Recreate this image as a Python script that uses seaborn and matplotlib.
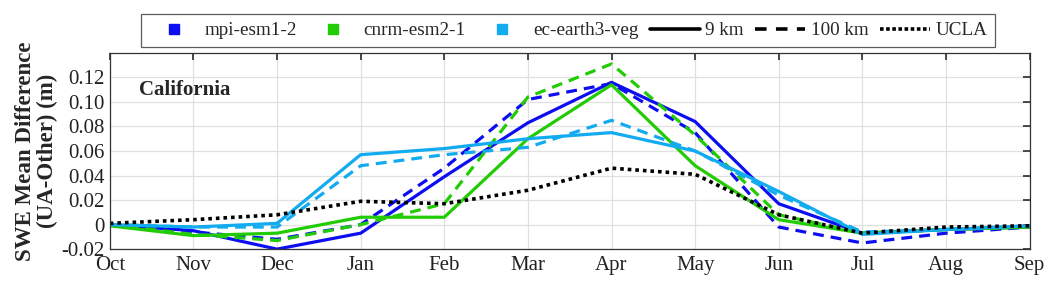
import matplotlib
matplotlib.use("Agg")
import matplotlib.pyplot as plt
from matplotlib.lines import Line2D
import numpy as np
import pandas as pd
import seaborn as sns

months = ["Oct", "Nov", "Dec", "Jan", "Feb", "Mar", "Apr", "May", "Jun", "Jul", "Aug", "Sep"]

mpi_9km = [0.0, -0.005, -0.020, -0.007, 0.039, 0.083, 0.116, 0.084, 0.017, -0.007, -0.004, -0.002]
mpi_100km = [0.0, -0.006, -0.012, 0.0, 0.046, 0.102, 0.115, 0.075, -0.002, -0.015, -0.007, -0.002]
cnrm_9km = [-0.001, -0.009, -0.007, 0.006, 0.006, 0.070, 0.114, 0.048, 0.004, -0.007, -0.004, -0.002]
cnrm_100km = [0.0, -0.008, -0.013, 0.0, 0.017, 0.104, 0.131, 0.073, 0.008, -0.007, -0.004, -0.002]
ec_9km = [0.0, -0.002, 0.001, 0.057, 0.062, 0.070, 0.075, 0.060, 0.027, -0.008, -0.004, -0.001]
ec_100km = [0.0, -0.002, -0.002, 0.048, 0.057, 0.063, 0.085, 0.060, 0.024, -0.006, -0.004, -0.001]
ucla = [0.001, 0.004, 0.008, 0.019, 0.017, 0.028, 0.046, 0.041, 0.008, -0.007, -0.002, -0.001]

models = ["mpi-esm1-2", "cnrm-esm2-1", "ec-earth3-veg"]
colors = {"mpi-esm1-2": "#0d0df2", "cnrm-esm2-1": "#22cc05", "ec-earth3-veg": "#12abef", "UCLA": "black"}
yticks = [-0.02, 0, 0.02, 0.04, 0.06, 0.08, 0.10, 0.12]
ytick_labels = ["-0.02", "0", "0.02", "0.04", "0.06", "0.08", "0.10", "0.12"]

series = {
    ("mpi-esm1-2", "9 km"): mpi_9km,
    ("mpi-esm1-2", "100 km"): mpi_100km,
    ("cnrm-esm2-1", "9 km"): cnrm_9km,
    ("cnrm-esm2-1", "100 km"): cnrm_100km,
    ("ec-earth3-veg", "9 km"): ec_9km,
    ("ec-earth3-veg", "100 km"): ec_100km,
    ("UCLA", "UCLA"): ucla,
}
rows = []
for (model, res), vals in series.items():
    for i, v in enumerate(vals):
        rows.append({"month": i, "swe": v, "model": model, "res": res})
df = pd.DataFrame(rows)

sns.set_theme(style="whitegrid")
plt.rcParams["font.family"] = ["Liberation Serif", "DejaVu Serif"]
plt.rcParams["font.size"] = 15

fig = plt.figure(figsize=(10.56, 2.89), dpi=100)
ax = fig.add_axes([0.104, 0.138, 0.871, 0.679])

dash_map = {"100 km": (3.4, 2.2), "UCLA": (1, 1.1)}
lw_map = {"9 km": 2.3, "100 km": 2.3, "UCLA": 2.6}
for (model, res), sub in df.groupby(["model", "res"], sort=False):
    sns.lineplot(data=sub, x="month", y="swe", color=colors[model], ax=ax,
                 linewidth=lw_map[res], legend=False)
    if res in dash_map:
        ax.lines[-1].set_dashes(dash_map[res])

ax.set_xlim(0, 11)
ax.set_ylim(-0.02, 0.14)
ax.set_xticks(range(len(months)))
ax.set_xticklabels(months, fontsize=15)
ax.set_yticks(yticks)
ax.set_yticklabels(ytick_labels, fontsize=15)
ax.set_xlabel("")
ax.set_ylabel("SWE Mean Difference\n(UA-Other) (m)", fontsize=16.5, fontweight="bold",
              labelpad=2, linespacing=1.05)
ax.grid(True, color="#e0e0e0", linewidth=0.9)
ax.set_facecolor("white")
for s in ax.spines.values():
    s.set_color("#333333")
    s.set_linewidth(0.9)
ax.tick_params(direction="in", top=True, right=True, length=5, color="#333333", labelcolor="#222222")
ax.tick_params(axis="x", pad=5)
ax.tick_params(axis="y", pad=4)
ax.text(0.032, 0.81, "California", transform=ax.transAxes, fontsize=15, fontweight="bold", va="center")

handles = [Line2D([], [], marker="s", linestyle="none", color=colors[m], markersize=7) for m in models]
handles += [
    Line2D([], [], color="black", linewidth=2.6),
    Line2D([], [], color="black", linewidth=2.6, dashes=(3.2, 2.6)),
    Line2D([], [], color="black", linewidth=2.6, dashes=(1, 0.7)),
]
labels = models + ["9 km", "100 km", "UCLA"]
leg = fig.legend(handles, labels, loc="center", bbox_to_anchor=(0.538, 0.894), ncol=6,
                 frameon=True, fancybox=False, fontsize=13.8, handlelength=2.6,
                 columnspacing=0.6, handletextpad=0.3, borderpad=0.4, borderaxespad=0)
leg.get_frame().set_edgecolor("#333333")
leg.get_frame().set_linewidth(0.9)

fig.savefig("out.png", dpi=100)
